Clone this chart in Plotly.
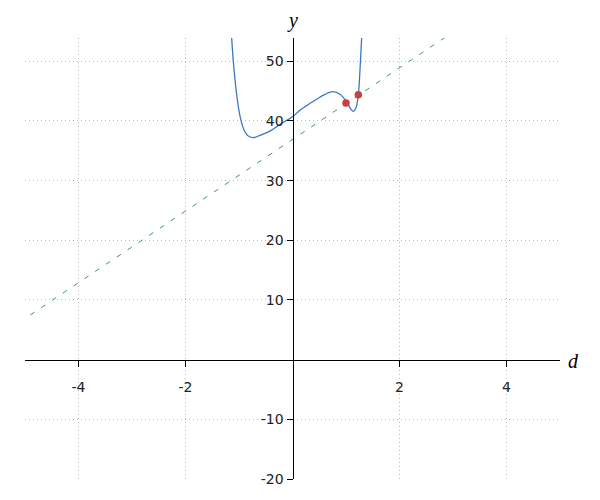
import plotly.graph_objects as go

# Blue curve samples
curve_d = [-1.140, -1.107, -1.075, -1.032, -0.981, -0.920, -0.870, -0.826, -0.733, -0.607,
           -0.421, -0.234, 0.000, 0.140, 0.234, 0.421, 0.607, 0.763, 0.888,
           1.013, 1.093, 1.137, 1.187, 1.230, 1.262, 1.295]
curve_y = [54.3, 50.05, 46.98, 43.6, 40.8, 38.8, 37.9, 37.47, 37.2, 37.58,
           38.3, 39.43, 40.7, 41.8, 42.4, 43.46, 44.46, 44.9, 44.46,
           43.17, 41.95, 41.6, 42.2, 44.4, 48.66, 54.3]

# Green dashed line end points
line_d = [-4.9, 3.0]
line_y = [7.5, 54.9]

# Red points
pts_d = [1.0, 1.23]
pts_y = [43.0, 44.4]

x_ticks = [-4, -2, 2, 4]
y_ticks = [-20, -10, 10, 20, 30, 40, 50]

fig = go.Figure()
fig.add_trace(go.Scatter(x=line_d, y=line_y, mode="lines",
                         line=dict(color="#3d9a55", width=1, dash="5px,8px"),
                         hoverinfo="skip"))
fig.add_trace(go.Scatter(x=curve_d, y=curve_y, mode="lines",
                         line=dict(color="#3b78c3", width=1.3, shape="spline", smoothing=1),
                         hoverinfo="skip"))
fig.add_trace(go.Scatter(x=pts_d, y=pts_y, mode="markers",
                         marker=dict(color="#c8403f", size=7.5, line=dict(width=0)),
                         hoverinfo="skip"))

tickfont = dict(family="DejaVu Sans", size=14, color="#222222")

fig.update_layout(
    width=600, height=500,
    margin=dict(l=17, r=48, t=30, b=29),
    paper_bgcolor="white", plot_bgcolor="white",
    showlegend=False,
    xaxis=dict(range=[-5, 5], tickvals=x_ticks, ticktext=[str(v) for v in x_ticks],
               showgrid=True, gridcolor="#b8b8b8", griddash="1px,3px", gridwidth=1,
               zeroline=False, showline=True, linecolor="black", linewidth=1,
               ticks="outside", ticklen=6, tickcolor="black", tickfont=tickfont,
               ticklabelstandoff=9,
               anchor="free", position=20 / 73.9, automargin=False),
    yaxis=dict(range=[-20, 53.9], tickvals=y_ticks, ticktext=[str(v) for v in y_ticks],
               showgrid=True, gridcolor="#b8b8b8", griddash="1px,3px", gridwidth=1,
               zeroline=False, showline=True, linecolor="black", linewidth=1,
               ticks="outside", ticklen=6, tickcolor="black", tickfont=tickfont,
               anchor="free", position=0.5, automargin=False),
    annotations=[
        dict(text="<i>d</i>", xref="paper", x=1, xanchor="left", xshift=6,
             yref="y", y=0, yanchor="middle", yshift=-1, showarrow=False,
             font=dict(family="Liberation Serif", size=20, color="black")),
        dict(text="<i>y</i>", xref="x", x=0, xanchor="center",
             yref="paper", y=1, yanchor="bottom", yshift=4, showarrow=False,
             font=dict(family="Liberation Serif", size=20, color="black")),
    ],
)

fig.write_html("out.html")
